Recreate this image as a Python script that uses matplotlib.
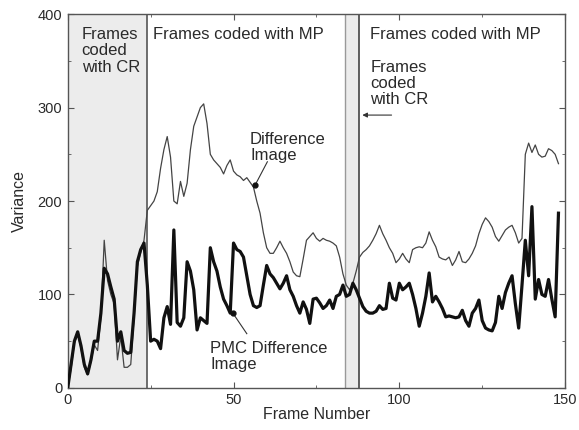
import matplotlib
matplotlib.use("Agg")
import matplotlib.pyplot as plt
import numpy as np

plt.rcParams['font.family'] = ['Liberation Sans', 'DejaVu Sans']

frames = list(range(0, 149))

diff_image = [0, 20, 48, 58, 42, 22, 14, 28, 46, 40, 75, 158, 115, 100, 90, 30, 55, 22, 22, 25,
              75, 130, 145, 158, 190, 195, 200, 210, 235, 255, 269, 247, 200, 197, 221, 205, 219, 255, 280, 290,
              300, 304, 283, 250, 244, 240, 236, 229, 238, 244, 232, 228, 226, 222, 225, 220, 215, 200, 187, 166,
              150, 144, 144, 150, 157, 150, 144, 135, 124, 120, 119, 138, 158, 162, 166, 160, 157, 160, 158, 157,
              155, 152, 140, 122, 110, 105, 112, 125, 140, 145, 148, 152, 158, 165, 174, 165, 158, 150, 144, 134,
              138, 144, 138, 134, 148, 150, 151, 150, 155, 167, 158, 151, 140, 138, 137, 140, 131, 137, 146, 135,
              134, 138, 144, 152, 165, 175, 182, 178, 172, 162, 157, 163, 169, 172, 174, 166, 155, 160, 250, 262,
              252, 260, 250, 247, 248, 256, 254, 250, 240]

pmc_diff = [0, 25, 50, 60, 45, 25, 15, 30, 50, 50, 80, 128, 122, 108, 95, 50, 60, 40, 37, 38,
            80, 135, 148, 155, 110, 50, 52, 50, 42, 75, 87, 68, 169, 70, 66, 75, 135, 125, 105, 62,
            75, 72, 69, 150, 135, 125, 108, 95, 88, 80, 155, 148, 146, 140, 120, 100, 88, 86, 88, 110,
            131, 122, 118, 112, 106, 112, 120, 105, 98, 88, 80, 92, 84, 69, 95, 96, 91, 85, 88, 94,
            85, 98, 100, 110, 98, 100, 112, 105, 96, 87, 82, 80, 80, 82, 88, 84, 85, 112, 96, 94,
            112, 105, 108, 112, 100, 85, 66, 80, 98, 123, 92, 98, 92, 85, 76, 77, 76, 75, 76, 83,
            72, 66, 80, 85, 94, 72, 64, 62, 61, 70, 98, 85, 102, 112, 120, 90, 64, 110, 158, 120,
            194, 95, 116, 100, 98, 116, 95, 76, 187]

cr_region1 = (0, 24)
cr_region2 = (83.7, 87.7)

x_ticks = [0, 50, 100, 150]
y_ticks = [0, 100, 200, 300, 400]

fig = plt.figure(figsize=(5.79, 4.30), dpi=100)
ax = fig.add_axes([0.117, 0.098, 0.859, 0.869])

tc = '#2a2a2a'
ax.axvspan(cr_region1[0], cr_region1[1], color='#ececec', zorder=0, lw=0)
ax.axvspan(cr_region2[0], cr_region2[1], color='#ececec', zorder=0, lw=0)
ax.axvline(cr_region1[1], color='#555555', lw=1.2, zorder=1)
ax.axvline(cr_region2[0], color='#999999', lw=1.0, zorder=1)
ax.axvline(cr_region2[1], color='#444444', lw=1.2, zorder=1)

ax.plot(frames, diff_image, color='#444444', lw=0.9, zorder=2)
ax.plot(frames, pmc_diff, color='#111111', lw=2.3, zorder=3)

ax.set_xlim(0, 150)
ax.set_ylim(0, 400)
ax.set_xticks(x_ticks)
ax.set_yticks(y_ticks)
ax.set_xticks([25, 75, 125], minor=True)
ax.set_yticks([50, 150, 250, 350], minor=True)
ax.tick_params(which='both', direction='in', top=True, right=True, colors='#555555',
               labelcolor=tc, labelsize=10.5)
ax.tick_params(which='major', length=4, pad=4)
ax.tick_params(which='minor', length=2.5)
for s in ax.spines.values():
    s.set_color('#555555')
    s.set_linewidth(1.0)

ax.set_xlabel('Frame Number', fontsize=11.5, color=tc, labelpad=0)
ax.set_ylabel('Variance', fontsize=11.5, color=tc, labelpad=8)

fs = 12
ls = 1.1
ax.text(4.2, 386, 'Frames\ncoded\nwith CR', fontsize=fs, color=tc, va='top', ha='left', linespacing=ls)
ax.text(25.7, 386, 'Frames coded with MP', fontsize=fs, color=tc, va='top', ha='left')
ax.text(91.2, 386, 'Frames coded with MP', fontsize=fs, color=tc, va='top', ha='left')
ax.text(91.2, 351, 'Frames\ncoded\nwith CR', fontsize=fs, color=tc, va='top', ha='left', linespacing=ls)
ax.annotate('', xy=(88.0, 292), xytext=(98.5, 292),
            arrowprops=dict(arrowstyle='-|>', color='#333333', lw=0.8, mutation_scale=7))

ax.text(55, 274, 'Difference\nImage', fontsize=fs, color=tc, va='top', ha='left', linespacing=ls)
ax.plot([60.2, 56.5], [242, 217], color='#333333', lw=0.8)
ax.plot([56.5], [217], 'o', color='#111111', ms=3.5)

ax.text(43, 50, 'PMC Difference\nImage', fontsize=fs, color=tc, va='top', ha='left', linespacing=ls)
ax.plot([54, 49.8], [58, 80], color='#333333', lw=0.8)
ax.plot([49.8], [80], 'o', color='#111111', ms=3.5)

fig.savefig('out.png', dpi=100)
